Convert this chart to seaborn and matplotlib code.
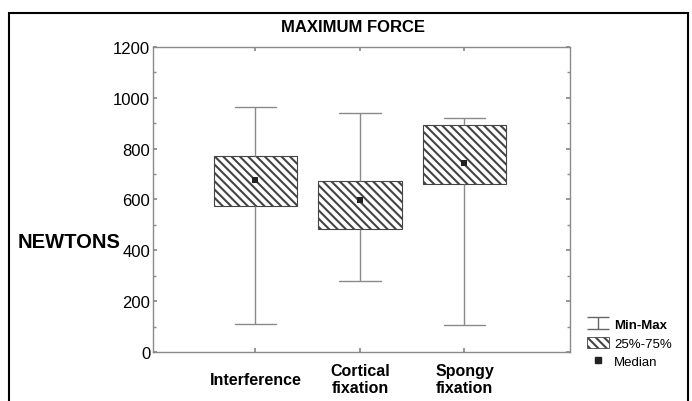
import matplotlib
matplotlib.use("Agg")
import matplotlib.pyplot as plt
import seaborn as sns
import pandas as pd
from matplotlib.lines import Line2D
from matplotlib.patches import Patch, Rectangle
from matplotlib.path import Path
from matplotlib.ticker import MultipleLocator

# summary values (Newtons)
groups = ["Interference", "Cortical\nfixation", "Spongy\nfixation"]
mins = [110, 280, 105]
q1 = [575, 485, 662]
medians = [675, 598, 742]
q3 = [770, 672, 893]
maxs = [965, 940, 920]

# five points per group -> quartiles of the points are exactly q1/median/q3
rows = []
for g, a, b, c, d, e in zip(groups, mins, q1, medians, q3, maxs):
    for v in (a, b, c, d, e):
        rows.append({"group": g, "force": v})
df = pd.DataFrame(rows)
med_df = pd.DataFrame({"group": groups, "force": medians})

sns.set_theme(style="white")
plt.rcParams["font.family"] = ["Liberation Sans", "DejaVu Sans"]
plt.rcParams["hatch.linewidth"] = 1.5
plt.rcParams["text.color"] = "black"
plt.rcParams["axes.labelcolor"] = "black"

fig = plt.figure(figsize=(6.92, 4.02), dpi=100)
ax = fig.add_axes([153 / 692, 1 - 353 / 402, (570 - 153) / 692, (353 - 48) / 402])

sns.boxplot(data=df, x="group", y="force", whis=(0, 100), width=0.8,
            color="white", linecolor="#8a8a8a", linewidth=1,
            medianprops={"visible": False}, ax=ax)
for p in ax.patches:
    p.set_facecolor("white")
    p.set_edgecolor("#444444")
    p.set_hatch("\\\\\\\\")
    p.set_linewidth(0.8)

sns.stripplot(data=med_df, x="group", y="force", jitter=False, marker="s",
              size=5, color="#222222", ax=ax, zorder=5)

ax.set_ylim(0, 1200)
ax.set_xlim(-0.98, 3.01)
ax.yaxis.set_major_locator(MultipleLocator(200))
ax.yaxis.set_minor_locator(MultipleLocator(100))
ax.tick_params(axis="both", which="both", direction="in", color="#8a8a8a",
               top=True, right=True, left=True, bottom=True)
ax.tick_params(axis="both", which="major", length=3)
ax.tick_params(axis="y", which="minor", length=2)
ax.tick_params(axis="y", labelsize=12, pad=2, colors="#8a8a8a", labelcolor="black")
ax.tick_params(axis="x", pad=19.5, colors="#8a8a8a", labelcolor="black")
for lab in ax.get_xticklabels():
    lab.set_fontsize(11.5)
    lab.set_fontweight("bold")
    lab.set_verticalalignment("center")
    lab.set_linespacing(1.2)
for s in ax.spines.values():
    s.set_color("#8a8a8a")
    s.set_linewidth(1)

ax.set_xlabel("")
ax.set_ylabel("NEWTONS", rotation=0, ha="left", va="center",
              fontsize=14.5, fontweight="bold", color="black")
ax.yaxis.set_label_coords((18 - 153) / 417, (353 - 243) / 305)

fig.suptitle("MAXIMUM FORCE", x=0.51, y=1 - 27 / 402, va="center",
             fontsize=12, fontweight="bold", color="black")

# outer frame (open at the bottom)
fig.add_artist(Rectangle((9 / 692, -0.05), (688 - 9) / 692, 1.05 - 14 / 402,
                         transform=fig.transFigure, fill=False,
                         edgecolor="black", linewidth=1.5))

# legend
ibeam = Path([(-1, 0.5), (1, 0.5), (0, 0.5), (0, -0.5), (-1, -0.5), (1, -0.5)],
             [Path.MOVETO, Path.LINETO, Path.MOVETO, Path.LINETO,
              Path.MOVETO, Path.LINETO])
handles = [
    Line2D([], [], linestyle="none", marker=ibeam, markersize=16,
           markerfacecolor="none", markeredgecolor="#666666", markeredgewidth=1),
    Patch(facecolor="white", edgecolor="#444444", hatch="\\\\\\\\", linewidth=0.6),
    Line2D([], [], linestyle="none", marker="s", markersize=4.5, color="#222222"),
]
leg = fig.legend(handles, ["Min-Max", "25%-75%", "Median"], loc="upper left",
                 bbox_to_anchor=(587 / 692, 1 - 319 / 402), frameon=False,
                 fontsize=9.5, handlelength=1.67, handleheight=0.9,
                 handletextpad=0.4, labelspacing=0.42, borderpad=0,
                 borderaxespad=0)
for t in leg.get_texts():
    t.set_color("black")
leg.get_texts()[0].set_fontweight("bold")

fig.savefig("out.png", dpi=100)
